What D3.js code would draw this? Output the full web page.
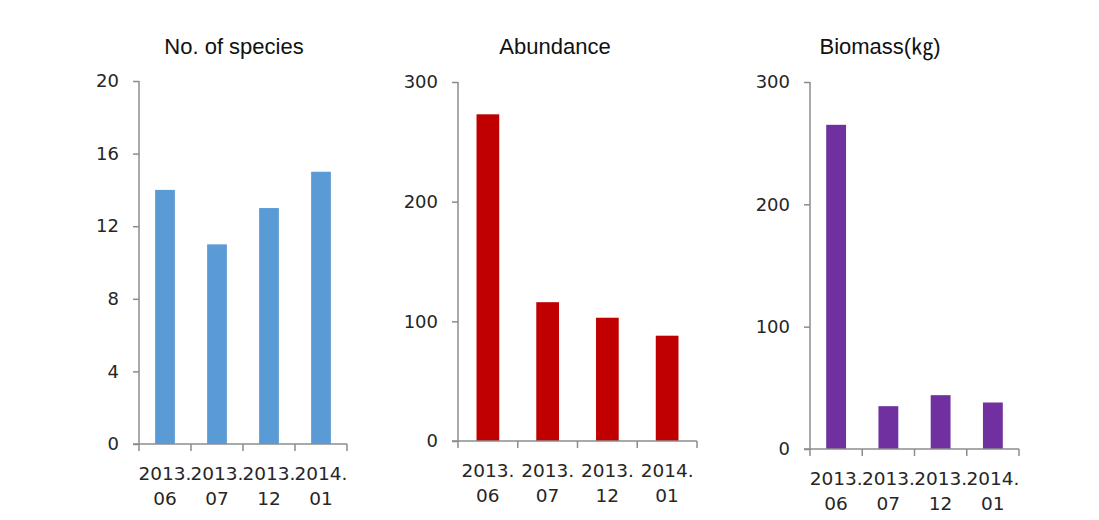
<!DOCTYPE html>
<html>
<head>
<meta charset="utf-8">
<script src="https://cdn.jsdelivr.net/npm/d3@7"></script>
<style>
  body { margin: 0; background: #fff; }
  svg { display: block; }
</style>
</head>
<body>
<svg id="myGraph" width="1099" height="520"></svg>
<script>
var categories = ["2013.06", "2013.07", "2013.12", "2014.01"]
var species = [14, 11, 13, 15]
var abundance = [273, 116, 103, 88]
var biomass = [265, 35, 44, 38]
var speciesTicks = [0, 4, 8, 12, 16, 20]
var abundanceTicks = [0, 100, 200, 300]
var biomassTicks = [0, 100, 200, 300]
var titles = ["No. of species", "Abundance", "Biomass(㎏)"]

var charts = [
  {title: titles[0], values: species, ticks: speciesTicks, color: "#5b9bd5",
   left: 139, right: 347, top: 81, bottom: 444, titleX: 234},
  {title: titles[1], values: abundance, ticks: abundanceTicks, color: "#c00000",
   left: 458, right: 697, top: 82, bottom: 441, titleX: 555},
  {title: titles[2], values: biomass, ticks: biomassTicks, color: "#7030a0",
   left: 810, right: 1019, top: 82, bottom: 449, titleX: 880}
]

var svg = d3.select("#myGraph")
var axisColor = "#8c8c8c"
var textColor = "#262626"

charts.forEach(function(c){
  var g = svg.append("g")

  var y = d3.scaleLinear()
    .domain([0, d3.max(c.ticks)])
    .range([c.bottom, c.top])

  // sections between the x tick marks
  var xb = d3.scaleBand()
    .domain(categories)
    .range([c.left, c.right])

  var x = d3.scaleBand()
    .domain(categories)
    .range([c.left, c.right])
    .paddingInner(0.62)
    .paddingOuter(0.31)

  g.selectAll("rect")
    .data(c.values)
    .enter()
    .append("rect")
    .attr("x", function(d, i){ return x(categories[i]) })
    .attr("width", x.bandwidth())
    .attr("y", function(d){ return y(d) })
    .attr("height", function(d){ return y(0) - y(d) })
    .style("fill", c.color)

  // y axis
  var yAxis = g.append("g")
    .attr("transform", "translate(" + c.left + ",0)")
    .call(d3.axisLeft(y).tickValues(c.ticks).tickSize(6).tickPadding(14))
  yAxis.select(".domain").attr("stroke", axisColor).attr("stroke-width", 1.5)
    .attr("d", "M0," + c.top + "V" + c.bottom)
  yAxis.selectAll(".tick line").attr("stroke", axisColor).attr("stroke-width", 1.5)
  yAxis.selectAll(".tick text")
    .attr("fill", textColor)
    .attr("font-family", "DejaVu Sans")
    .attr("font-size", "18px")

  // x axis line and boundary ticks
  var edges = categories.map(function(d){ return xb(d) }).concat([c.right])
  g.append("line")
    .attr("x1", c.left - 6).attr("x2", c.right)
    .attr("y1", c.bottom).attr("y2", c.bottom)
    .attr("stroke", axisColor).attr("stroke-width", 1.5)
  g.selectAll(".xtick")
    .data(edges)
    .enter()
    .append("line")
    .attr("class", "xtick")
    .attr("x1", function(d){ return d }).attr("x2", function(d){ return d })
    .attr("y1", c.bottom).attr("y2", c.bottom + 7)
    .attr("stroke", axisColor).attr("stroke-width", 1.5)

  var labels = g.selectAll(".xlabel")
    .data(categories)
    .enter()
    .append("text")
    .attr("class", "xlabel")
    .attr("text-anchor", "middle")
    .attr("font-family", "DejaVu Sans")
    .attr("font-size", "18.5px")
    .attr("fill", textColor)
  labels.append("tspan")
    .attr("x", function(d){ return xb(d) + xb.bandwidth() / 2 })
    .attr("y", c.bottom + 36)
    .text(function(d){ return d.split(".")[0] + "." })
  labels.append("tspan")
    .attr("x", function(d){ return xb(d) + xb.bandwidth() / 2 })
    .attr("y", c.bottom + 61)
    .text(function(d){ return d.split(".")[1] })

  g.append("text")
    .attr("x", c.titleX)
    .attr("y", 54)
    .attr("text-anchor", "middle")
    .attr("font-family", "Liberation Sans, Noto Sans CJK KR")
    .attr("font-size", "22px")
    .attr("fill", "#111")
    .text(c.title)
})
</script>
</body>
</html>
